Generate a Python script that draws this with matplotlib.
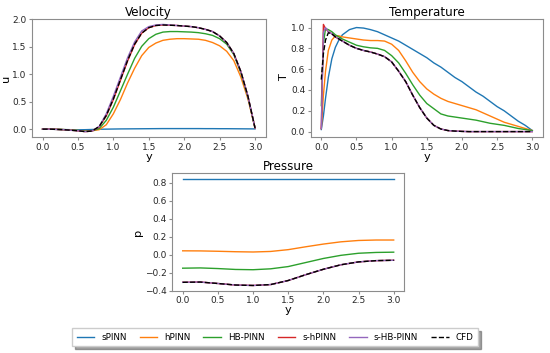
# Perfiles de velocidad, temperatura y presion: PINNs vs CFD
import numpy as np
import matplotlib.pyplot as plt

# etiquetas de las series
labels = ['sPINN', 'hPINN', 'HB-PINN', 's-hPINN', 's-HB-PINN', 'CFD']
colores = ['tab:blue', 'tab:orange', 'tab:green', 'tab:red', 'tab:purple', 'k']
estilos = ['-', '-', '-', '-', '-', '--']

# ---- velocidad u(y) ----
y_u = [0.0, 0.1, 0.2, 0.3, 0.4, 0.5, 0.6, 0.7, 0.8, 0.9, 1.0, 1.1, 1.2, 1.3, 1.4, 1.5,
       1.6, 1.7, 1.8, 1.9, 2.0, 2.1, 2.2, 2.3, 2.4, 2.5, 2.6, 2.7, 2.8, 2.9, 3.0]
u_spinn = [0.0, -0.002, -0.005, -0.008, -0.01, -0.012, -0.01, -0.006, -0.002, 0.0, 0.002,
           0.004, 0.005, 0.006, 0.007, 0.008, 0.009, 0.01, 0.01, 0.01, 0.01, 0.01, 0.01,
           0.009, 0.009, 0.008, 0.008, 0.007, 0.006, 0.005, 0.004]
u_hpinn = [0.0, 0.0, -0.004, -0.008, -0.015, -0.025, -0.035, -0.03, -0.01, 0.08, 0.28,
           0.54, 0.84, 1.11, 1.34, 1.49, 1.57, 1.62, 1.64, 1.65, 1.65, 1.645, 1.64, 1.62,
           1.58, 1.52, 1.42, 1.25, 0.95, 0.55, 0.02]
u_hbpinn = [0.0, 0.0, -0.004, -0.008, -0.015, -0.025, -0.035, -0.03, 0.01, 0.16, 0.40,
            0.70, 1.00, 1.29, 1.51, 1.65, 1.73, 1.77, 1.78, 1.78, 1.775, 1.77, 1.76, 1.74,
            1.71, 1.65, 1.55, 1.36, 1.03, 0.58, 0.02]
u_shpinn = [0.0, 0.0, -0.005, -0.01, -0.02, -0.03, -0.045, -0.035, 0.04, 0.24, 0.54,
            0.89, 1.24, 1.54, 1.75, 1.85, 1.89, 1.90, 1.895, 1.89, 1.88, 1.87, 1.85, 1.82,
            1.78, 1.70, 1.58, 1.38, 1.05, 0.60, 0.02]
u_shbpinn = [0.0, 0.0, -0.005, -0.01, -0.02, -0.03, -0.045, -0.035, 0.05, 0.28, 0.60,
             0.95, 1.30, 1.59, 1.79, 1.87, 1.90, 1.91, 1.90, 1.89, 1.88, 1.87, 1.85, 1.82,
             1.78, 1.70, 1.58, 1.38, 1.05, 0.60, 0.02]
u_cfd = [0.0, 0.0, -0.005, -0.01, -0.02, -0.03, -0.045, -0.035, 0.05, 0.25, 0.55,
         0.90, 1.25, 1.55, 1.75, 1.85, 1.89, 1.90, 1.895, 1.89, 1.88, 1.87, 1.85, 1.82,
         1.78, 1.70, 1.58, 1.38, 1.05, 0.60, 0.02]

# ---- temperatura T(y) ----
y_T = [0.0, 0.03, 0.06, 0.1, 0.15, 0.2, 0.25, 0.3, 0.4, 0.5, 0.6, 0.7, 0.8, 0.9, 1.0,
       1.1, 1.2, 1.3, 1.4, 1.5, 1.6, 1.7, 1.8, 1.9, 2.0, 2.1, 2.2, 2.3, 2.4, 2.5, 2.6,
       2.7, 2.8, 2.9, 3.0]
T_spinn = [0.02, 0.15, 0.32, 0.52, 0.70, 0.81, 0.88, 0.93, 0.98, 1.0, 0.995, 0.98, 0.96,
           0.93, 0.90, 0.87, 0.83, 0.79, 0.75, 0.71, 0.66, 0.62, 0.57, 0.52, 0.48, 0.43,
           0.38, 0.34, 0.29, 0.24, 0.20, 0.15, 0.10, 0.06, 0.01]
T_hpinn = [0.03, 0.35, 0.58, 0.78, 0.88, 0.92, 0.92, 0.91, 0.90, 0.89, 0.88, 0.875, 0.875,
           0.87, 0.84, 0.78, 0.68, 0.57, 0.48, 0.41, 0.36, 0.32, 0.29, 0.27, 0.25, 0.23,
           0.21, 0.18, 0.15, 0.12, 0.09, 0.07, 0.05, 0.03, 0.01]
T_hbpinn = [0.25, 0.85, 0.99, 0.98, 0.96, 0.93, 0.91, 0.89, 0.86, 0.83, 0.815, 0.805, 0.80,
            0.78, 0.73, 0.66, 0.56, 0.45, 0.35, 0.27, 0.22, 0.17, 0.15, 0.14, 0.13, 0.12,
            0.11, 0.095, 0.08, 0.07, 0.06, 0.045, 0.03, 0.02, 0.01]
T_shpinn = [0.03, 1.03, 0.99, 0.96, 0.94, 0.91, 0.89, 0.87, 0.83, 0.80, 0.78, 0.765, 0.745,
            0.72, 0.67, 0.58, 0.48, 0.35, 0.23, 0.13, 0.06, 0.025, 0.01, 0.005, 0.002, 0.0,
            0.0, 0.0, 0.0, 0.0, 0.0, 0.0, 0.0, 0.0, 0.0]
T_shbpinn = [0.03, 0.95, 1.0, 0.96, 0.94, 0.91, 0.89, 0.87, 0.83, 0.80, 0.78, 0.765, 0.745,
             0.72, 0.67, 0.58, 0.48, 0.35, 0.23, 0.13, 0.06, 0.025, 0.01, 0.005, 0.002, 0.0,
             0.0, 0.0, 0.0, 0.0, 0.0, 0.0, 0.0, 0.0, 0.0]
T_cfd = [0.5, 0.75, 0.88, 0.95, 0.94, 0.91, 0.89, 0.87, 0.83, 0.80, 0.78, 0.765, 0.745,
         0.72, 0.67, 0.58, 0.48, 0.35, 0.23, 0.13, 0.06, 0.025, 0.01, 0.005, 0.002, 0.0,
         0.0, 0.0, 0.0, 0.0, 0.0, 0.0, 0.0, 0.0, 0.0]

# ---- presion p(y) ----
y_p = [0.0, 0.25, 0.5, 0.75, 1.0, 1.25, 1.5, 1.75, 2.0, 2.25, 2.5, 2.75, 3.0]
p_spinn = [0.845, 0.845, 0.845, 0.845, 0.845, 0.845, 0.845, 0.845, 0.845, 0.845, 0.845,
           0.845, 0.845]
p_hpinn = [0.045, 0.044, 0.04, 0.035, 0.032, 0.038, 0.058, 0.09, 0.12, 0.145, 0.16, 0.165,
           0.165]
p_hbpinn = [-0.148, -0.145, -0.152, -0.162, -0.165, -0.155, -0.13, -0.085, -0.04, -0.005,
            0.018, 0.027, 0.03]
p_shpinn = [-0.305, -0.302, -0.318, -0.335, -0.34, -0.33, -0.285, -0.22, -0.16, -0.11,
            -0.078, -0.064, -0.06]
p_shbpinn = [-0.305, -0.302, -0.318, -0.335, -0.34, -0.33, -0.285, -0.22, -0.16, -0.11,
             -0.078, -0.064, -0.06]
p_cfd = [-0.305, -0.302, -0.318, -0.335, -0.34, -0.33, -0.285, -0.22, -0.16, -0.11,
         -0.078, -0.064, -0.06]

# marcas de los ejes
xt = [0.0, 0.5, 1.0, 1.5, 2.0, 2.5, 3.0]
ut = [0.0, 0.5, 1.0, 1.5, 2.0]
Tt = [0.0, 0.2, 0.4, 0.6, 0.8, 1.0]
pt = [-0.4, -0.2, 0.0, 0.2, 0.4, 0.6, 0.8]

plt.rcParams['axes.edgecolor'] = '0.55'
plt.rcParams['xtick.color'] = '0.55'
plt.rcParams['ytick.color'] = '0.55'
plt.rcParams['xtick.labelcolor'] = '0.15'
plt.rcParams['ytick.labelcolor'] = '0.15'

fig = plt.figure(figsize=(5.5, 3.53), dpi=100)
ax_u = fig.add_axes([0.058, 0.612, 0.425, 0.334])
ax_T = fig.add_axes([0.565, 0.612, 0.422, 0.334])
ax_p = fig.add_axes([0.313, 0.176, 0.422, 0.334])

paneles = [
    (ax_u, y_u, [u_spinn, u_hpinn, u_hbpinn, u_shpinn, u_shbpinn, u_cfd], 'Velocity', 'u', ut),
    (ax_T, y_T, [T_spinn, T_hpinn, T_hbpinn, T_shpinn, T_shbpinn, T_cfd], 'Temperature', 'T', Tt),
    (ax_p, y_p, [p_spinn, p_hpinn, p_hbpinn, p_shpinn, p_shbpinn, p_cfd], 'Pressure', 'p', pt),
]

for ax, yy, series, titulo, var, yt in paneles:
    for s, lab, c, ls in zip(series, labels, colores, estilos):
        ax.plot(yy, s, color=c, linestyle=ls, linewidth=1.0, label=lab)
    ax.set_title(titulo, fontsize=8.6, pad=2)
    ax.set_xlabel('y', fontsize=8.2, labelpad=0)
    ax.set_ylabel(var, fontsize=8.2, labelpad=1)
    ax.set_xticks(xt)
    ax.set_yticks(yt)
    ax.tick_params(labelsize=6.5, length=2.5, pad=1.5)

ax_p.set_ylim(-0.4, 0.91)

handles, labs = ax_u.get_legend_handles_labels()
fig.legend(handles, labs, loc='center', bbox_to_anchor=(0.5, 0.045), ncol=6,
           shadow=True, fontsize=6.3, handlelength=2.0, columnspacing=1.5,
           fancybox=False, edgecolor='0.8', borderpad=0.5)

fig.savefig('out.png', dpi=100)
